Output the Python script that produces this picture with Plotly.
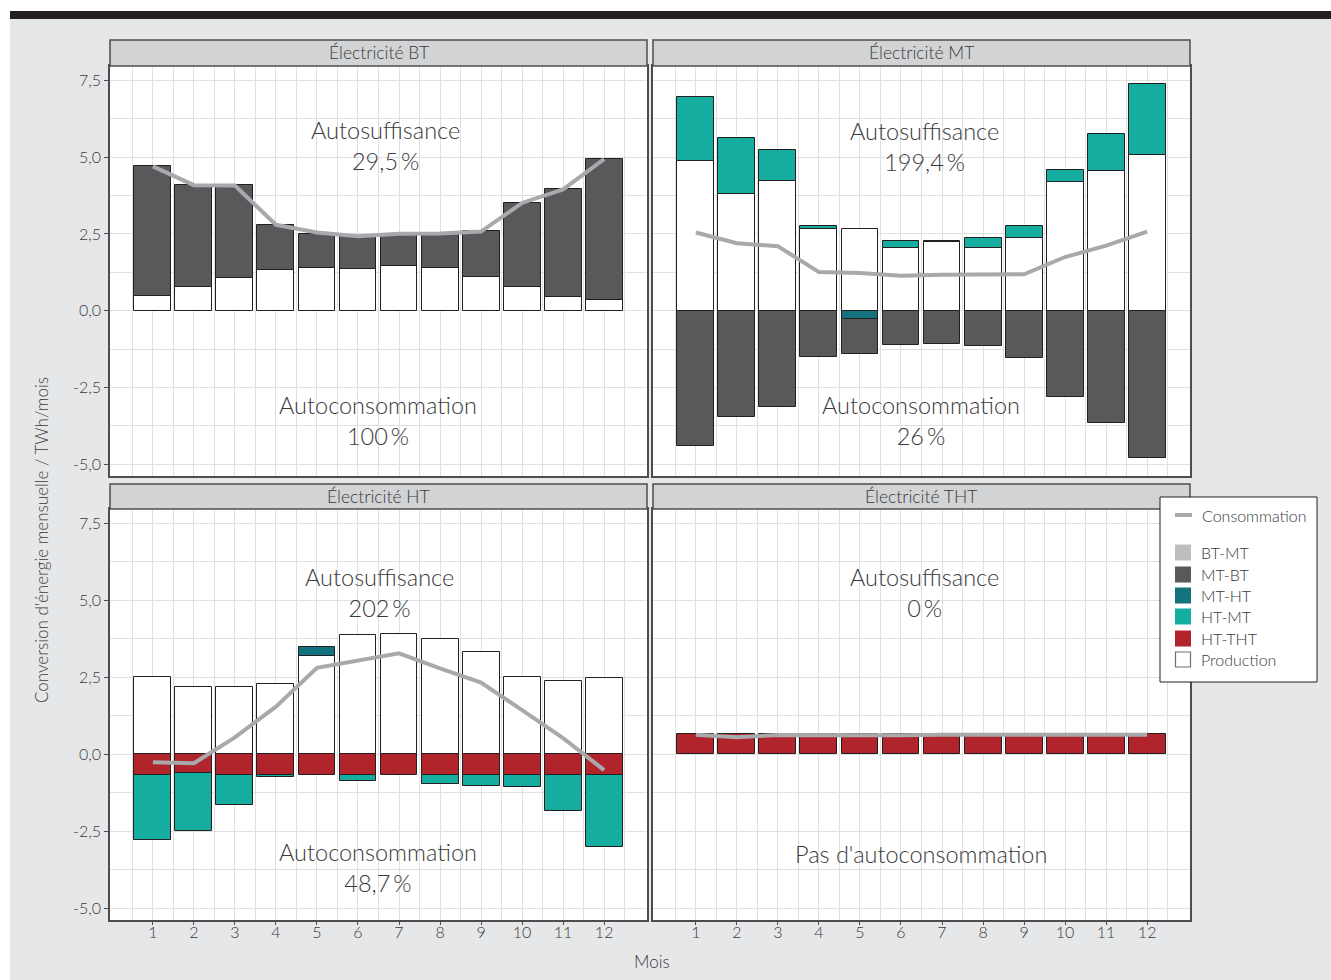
import plotly.graph_objects as go

W, H = 1331, 980

# ---------------- data ----------------
months = list(range(1, 13))

# Électricité BT
bt_production = [0.47, 0.76, 1.07, 1.34, 1.40, 1.37, 1.47, 1.40, 1.11, 0.79, 0.46, 0.34]
bt_mt_bt = [4.23, 3.33, 3.01, 1.45, 1.11, 1.07, 1.03, 1.11, 1.49, 2.72, 3.50, 4.60]
bt_consommation = [4.70, 4.09, 4.08, 2.80, 2.55, 2.43, 2.51, 2.52, 2.58, 3.51, 3.95, 4.94]

# Électricité MT
mt_production = [4.88, 3.79, 4.22, 2.66, 2.65, 2.04, 2.25, 2.04, 2.37, 4.18, 4.55, 5.08]
mt_ht_mt = [2.07, 1.85, 1.00, 0.11, 0.0, 0.22, 0.02, 0.32, 0.39, 0.40, 1.19, 2.31]
mt_mt_ht = [0.0, 0.0, 0.0, 0.0, -0.27, 0.0, 0.0, 0.0, 0.0, 0.0, 0.0, 0.0]
mt_mt_bt = [-4.40, -3.46, -3.12, -1.51, -1.15, -1.10, -1.08, -1.15, -1.54, -2.81, -3.64, -4.80]
mt_consommation = [2.55, 2.20, 2.10, 1.26, 1.23, 1.14, 1.17, 1.18, 1.19, 1.75, 2.12, 2.58]

# Électricité HT
ht_production = [2.52, 2.20, 2.19, 2.29, 3.19, 3.88, 3.92, 3.74, 3.33, 2.51, 2.39, 2.48]
ht_mt_ht = [0.0, 0.0, 0.0, 0.0, 0.29, 0.0, 0.0, 0.0, 0.0, 0.0, 0.0, 0.0]
ht_ht_tht = [-0.67, -0.60, -0.67, -0.67, -0.67, -0.67, -0.68, -0.68, -0.66, -0.68, -0.66, -0.68]
ht_ht_mt = [-2.11, -1.89, -0.99, -0.08, 0.0, -0.20, 0.0, -0.29, -0.36, -0.37, -1.19, -2.34]
ht_consommation = [-0.26, -0.29, 0.55, 1.55, 2.81, 3.04, 3.28, 2.79, 2.33, 1.44, 0.53, -0.51]

# Électricité THT
tht_ht_tht = [0.66, 0.65, 0.66, 0.66, 0.66, 0.66, 0.67, 0.67, 0.66, 0.67, 0.66, 0.67]
tht_consommation = [0.64, 0.56, 0.63, 0.62, 0.63, 0.62, 0.64, 0.64, 0.62, 0.63, 0.62, 0.64]

panel_titles = ["Électricité BT", "Électricité MT", "Électricité HT", "Électricité THT"]
autosuffisance = ["29,5\u2009%", "199,4\u2009%", "202\u2009%", "0\u2009%"]
autoconsommation = ["100\u2009%", "26\u2009%", "48,7\u2009%", None]

y_tickvals = [-5, -2.5, 0, 2.5, 5, 7.5]
y_ticktext = ["-5,0", "-2,5", "0,0", "2,5", "5,0", "7,5"]
x_tickvals = months
x_ticktext = [str(m) for m in months]

legend_labels = ["BT-MT", "MT-BT", "MT-HT", "HT-MT", "HT-THT", "Production"]

# ---------------- style ----------------
COLORS = {
    "BT-MT": "#bcbec0",
    "MT-BT": "#58595b",
    "MT-HT": "#12737e",
    "HT-MT": "#15ada0",
    "HT-THT": "#b2242c",
    "Production": "#ffffff",
}
LINE_COL = "#a7a9ac"
EDGE = "#231f20"
TXT = "#3a3a3c"
FONT = "Lato"
GRID = "#e0e0e0"

def px(x):
    return x / W

def py(y):
    return 1 - y / H

fig = go.Figure()

def add_bar(vals, name, xa, ya):
    fig.add_trace(go.Bar(
        x=months, y=[v if v != 0 else None for v in vals],
        width=0.9, marker=dict(color=COLORS[name], line=dict(color=EDGE, width=1)),
        xaxis=xa, yaxis=ya, showlegend=False, name=name))

def add_line(vals, xa, ya):
    fig.add_trace(go.Scatter(
        x=months, y=vals, mode="lines", line=dict(color=LINE_COL, width=4),
        xaxis=xa, yaxis=ya, showlegend=False, name="Consommation"))

# Order: Production, MT-HT, HT-THT, HT-MT, MT-BT  (stack order from zero)
add_bar(bt_production, "Production", "x", "y")
add_bar(bt_mt_bt, "MT-BT", "x", "y")
add_bar(mt_production, "Production", "x2", "y2")
add_bar(mt_mt_ht, "MT-HT", "x2", "y2")
add_bar(mt_ht_mt, "HT-MT", "x2", "y2")
add_bar(mt_mt_bt, "MT-BT", "x2", "y2")
add_bar(ht_production, "Production", "x3", "y3")
add_bar(ht_mt_ht, "MT-HT", "x3", "y3")
add_bar(ht_ht_tht, "HT-THT", "x3", "y3")
add_bar(ht_ht_mt, "HT-MT", "x3", "y3")
add_bar(tht_ht_tht, "HT-THT", "x4", "y4")

add_line(bt_consommation, "x", "y")
add_line(mt_consommation, "x2", "y2")
add_line(ht_consommation, "x3", "y3")
add_line(tht_consommation, "x4", "y4")

panels = [
    (110, 647, 66, 476),
    (653, 1190, 66, 476),
    (110, 647, 509, 920),
    (653, 1190, 509, 920),
]
XR = [-0.045, 13.045]
YR = [-5.38, 7.97]

layout_axes = {}
for i, (x0, x1, y0, y1) in enumerate(panels):
    n = "" if i == 0 else str(i + 1)
    left = i in (0, 2)
    bottom = i in (2, 3)
    layout_axes["xaxis" + n] = dict(
        domain=[px(x0), px(x1)], range=XR, anchor="y" + n,
        tickmode="array", tickvals=x_tickvals, ticktext=x_ticktext,
        showticklabels=bottom, ticks="outside" if bottom else "", ticklen=3,
        ticklabelstandoff=-6,
        tickcolor="#4d4d4f", tickwidth=1,
        showgrid=True, gridcolor=GRID, gridwidth=1, zeroline=False,
        minor=dict(tickmode="linear", tick0=0.5, dtick=1, showgrid=True,
                   gridcolor=GRID, gridwidth=1, ticks=""),
        showline=True, mirror=True, linecolor="#4d4d4f", linewidth=1.5,
        tickfont=dict(family=FONT, size=16, color=TXT, weight=300),
        fixedrange=True)
    layout_axes["yaxis" + n] = dict(
        domain=[py(y1), py(y0)], range=YR, anchor="x" + n,
        tickmode="array", tickvals=y_tickvals, ticktext=y_ticktext,
        showticklabels=left, ticks="outside" if left else "", ticklen=4,
        tickcolor="#4d4d4f", tickwidth=1,
        showgrid=True, gridcolor=GRID, gridwidth=1, zeroline=False,
        minor=dict(tickmode="linear", tick0=1.25, dtick=2.5, showgrid=True,
                   gridcolor=GRID, gridwidth=1, ticks=""),
        showline=True, mirror=True, linecolor="#4d4d4f", linewidth=1.5,
        tickfont=dict(family=FONT, size=16, color=TXT, weight=300),
        fixedrange=True)

shapes = []
annotations = []

def rect(x0, y0, x1, y1, fill, line_col=None, lw=0, layer="above"):
    shapes.append(dict(type="rect", xref="paper", yref="paper",
                       x0=px(x0), x1=px(x1), y0=py(y1), y1=py(y0),
                       fillcolor=fill, line=dict(color=line_col or fill, width=lw),
                       layer=layer))

def text(x, y, s, size, xanchor="center", angle=0, color=TXT):
    annotations.append(dict(xref="paper", yref="paper", x=px(x), y=py(y), text=s,
                            showarrow=False, xanchor=xanchor, yanchor="middle",
                            textangle=angle,
                            font=dict(family=FONT, size=size, color=color, weight=300)))

# page background pieces
rect(0, 0, 10, 980, "#ffffff")
rect(0, 0, 1331, 11, "#ffffff")
rect(10, 11, 1331, 19, "#231f20")

# strips
strip_y = [(40, 66), (40, 66), (484, 509), (484, 509)]
for i, (x0, x1, _, _) in enumerate(panels):
    sy0, sy1 = strip_y[i]
    rect(x0, sy0, x1, sy1, "#d1d3d4", "#4d4d4f", 1.5)
    text((x0 + x1) / 2, (sy0 + sy1) / 2, panel_titles[i], 17.5)

# panel annotations (two-line blocks)
auto_pos = [
    ((386, 145.5), (378, 421)),
    ((924, 146), (921.5, 421)),
    ((379, 592), (378, 867)),
    ((924, 592), (921.5, 854)),
]
for i, (top, bot) in enumerate(auto_pos):
    text(top[0], top[1], "Autosuffisance<br>" + autosuffisance[i], 23.5)
    if autoconsommation[i] is not None:
        text(bot[0], bot[1], "Autoconsommation<br>" + autoconsommation[i], 23.5)
    else:
        text(bot[0], bot[1], "Pas d'autoconsommation", 23.5)

# axis titles
text(41, 540, "Conversion d'énergie mensuelle / TWh/mois", 17, angle=-90)
text(652, 961, "Mois", 17)

# legend
rect(1160, 497, 1317, 682, "#ffffff", "#231f20", 1)
shapes.append(dict(type="line", xref="paper", yref="paper",
                   x0=px(1175), x1=px(1192), y0=py(515), y1=py(515),
                   line=dict(color=LINE_COL, width=4), layer="above"))
text(1200, 515, "Consommation", 16, xanchor="left")
leg_y = [552.5, 574.5, 595.5, 616.5, 638.5, 659.5]
for lab, yc in zip(legend_labels, leg_y):
    if lab == "Production":
        rect(1175.5, yc - 7.5, 1190.5, yc + 7.5, "#ffffff", "#6d6e71", 1.2)
    else:
        rect(1175, yc - 8, 1191, yc + 8, COLORS[lab])
    text(1199, yc, lab, 16, xanchor="left")

fig.update_layout(
    width=W, height=H, margin=dict(l=0, r=0, t=0, b=0),
    paper_bgcolor="#e6e7e8", plot_bgcolor="#ffffff",
    barmode="relative", bargap=0, showlegend=False,
    shapes=shapes, annotations=annotations,
    font=dict(family=FONT, color=TXT),
    **layout_axes,
)

fig.write_html("out.html")
